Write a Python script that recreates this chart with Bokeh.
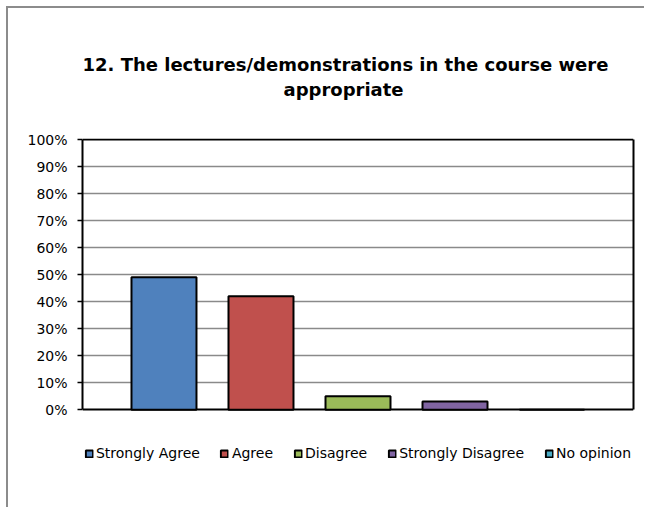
from bokeh.plotting import figure
from bokeh.models import (ColumnDataSource, Range1d, FixedTicker, Title, Legend, LegendItem,
                          LinearAxis, Grid)
from bokeh.embed import file_html
from bokeh.resources import INLINE

# ---- data ----
categories = ["Strongly Agree", "Agree", "Disagree", "Strongly Disagree", "No opinion"]
values = [49, 42, 5, 3, 0]
colors = ["#4F81BD", "#C0504D", "#9BBB59", "#8064A2", "#4BACC6"]
y_ticks = [0, 10, 20, 30, 40, 50, 60, 70, 80, 90, 100]
y_tick_labels = ["0%", "10%", "20%", "30%", "40%", "50%", "60%", "70%", "80%", "90%", "100%"]
title_lines = ["12. The lectures/demonstrations in the course were", "appropriate"]

FONT = "DejaVu Sans"
Y_MIN, Y_MAX = y_ticks[0], y_ticks[-1]

src = ColumnDataSource(dict(
    x=list(range(len(categories))),
    top=values,
    cat=categories,
    color=colors,
))

# the frame extends below 0% so the legend can sit inside it (visible area);
# a small headroom above 100% lets the black top edge line be drawn
p = figure(width=644, height=507, output_backend="svg", toolbar_location=None,
           x_range=Range1d(-0.84, len(categories) - 1 + 0.84),
           y_range=Range1d(-19.2, Y_MAX + 0.4),
           min_border_left=82, min_border_right=11, min_border_top=138, min_border_bottom=46)
p.title = None
p.border_fill_alpha = 0
p.outline_line_color = None
p.background_fill_alpha = 0
p.styles = {
    "background-color": "white",
    "box-shadow": "inset 6px 6px 0 0 white, inset 8px 8px 0 0 #8c8c8c",
}

# gridlines (gray), then the black box edges at 0% and 100%
p.xgrid.visible = False
p.ygrid.ticker = FixedTicker(ticks=y_ticks[1:-1])
p.ygrid.grid_line_color = "#8a8a8a"
p.ygrid.grid_line_width = 1.5
p.add_layout(Grid(dimension=1, ticker=FixedTicker(ticks=[Y_MIN, Y_MAX]),
                  grid_line_color="black", grid_line_width=2))

r = p.vbar(x="x", top="top", width=0.67, source=src, fill_color="color",
           line_color="black", line_width=2)

# axes
p.xaxis.visible = False
yax = p.yaxis[0]
yax.bounds = (Y_MIN, Y_MAX)
yax.ticker = FixedTicker(ticks=y_ticks)
yax.major_label_overrides = {t: l for t, l in zip(y_ticks, y_tick_labels)}
yax.axis_line_color = "black"
yax.axis_line_width = 2
yax.major_tick_line_color = "black"
yax.major_tick_line_width = 1.5
yax.major_tick_in = 0
yax.major_tick_out = 5
yax.minor_tick_line_color = None
yax.major_label_text_font = FONT
yax.major_label_text_font_size = "14px"
yax.major_label_text_color = "black"
yax.major_label_standoff = 10

right = LinearAxis(bounds=(Y_MIN, Y_MAX), ticker=FixedTicker(ticks=[]),
                   axis_line_color="black", axis_line_width=2,
                   major_tick_line_color=None, minor_tick_line_color=None,
                   major_label_text_font_size="0px")
p.add_layout(right, "right")

# title: spacer (nearest the plot), then the two lines
p.add_layout(Title(text=" ", text_font_size="10px", standoff=25), "above")
p.add_layout(Title(text=title_lines[1], align="left", offset=201, standoff=2,
                   text_font=FONT, text_font_style="bold", text_font_size="18px",
                   text_color="black"), "above")
p.add_layout(Title(text=title_lines[0], align="left", offset=0, standoff=2,
                   text_font=FONT, text_font_style="bold", text_font_size="18px",
                   text_color="black"), "above")

# legend in the strip below 0%
items = [LegendItem(label=c, renderers=[r], index=i) for i, c in enumerate(categories)]
legend = Legend(items=items, orientation="horizontal", location="bottom_center",
                glyph_width=9, glyph_height=9, label_standoff=3, spacing=20,
                padding=0, margin=0, border_line_color=None, background_fill_alpha=0,
                label_text_font=FONT, label_text_font_size="14px", label_text_color="black")
p.add_layout(legend)

open("out.html", "w").write(file_html(p, INLINE))
